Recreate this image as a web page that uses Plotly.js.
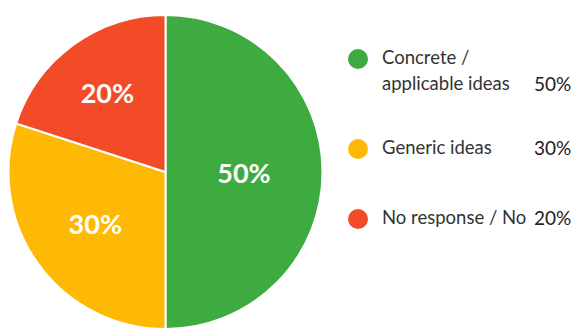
<!DOCTYPE html>
<html>
<head>
<meta charset="utf-8">
<script src="https://cdn.plot.ly/plotly-3.0.1.min.js"></script>
<style>
  html, body { margin: 0; padding: 0; background: #ffffff; }
  #chart { width: 574px; height: 331px; }
</style>
</head>
<body>
<div id="chart"></div>
<script>
// ---- data ----
const categories = ["Concrete /<br>applicable ideas", "Generic ideas", "No response / No"];
const shares = [50, 30, 20];
const colors = ["#3eab40", "#fdb904", "#f34a27"];

// ---- layout constants ----
const W = 574, H = 331;
const cx = 165.5, cy = 172, r = 157;
const px = v => v / W;
const py = v => 1 - v / H;
const FONT = "Lato, 'Open Sans', sans-serif";

const pie = {
  type: "pie",
  labels: categories.map(c => c.replace("<br>", " ")),
  values: shares,
  sort: false,
  direction: "clockwise",
  rotation: 0,
  marker: { colors: colors, line: { color: "#ffffff", width: 2 } },
  texttemplate: "%{value}%",
  textposition: "inside",
  insidetextorientation: "horizontal",
  textfont: { family: FONT, size: 27, color: "#ffffff", weight: 700 },
  hoverinfo: "skip",
  showlegend: false,
  domain: { x: [px(cx - r), px(cx + r)], y: [py(cy + r), py(cy - r)] }
};

// custom legend built from the data arrays
const legendRowY = [58, 148, 218];   // row circle centres (px)
const lineGap = 26;
const shapes = [];
const annotations = [];
categories.forEach((cat, i) => {
  const y0 = legendRowY[i];
  shapes.push({
    type: "circle", xref: "paper", yref: "paper",
    x0: px(348), x1: px(368), y0: py(y0 - 10 + 1), y1: py(y0 + 10 + 1),
    fillcolor: colors[i], line: { width: 0 }
  });
  const lines = cat.split("<br>");
  lines.forEach((ln, j) => {
    annotations.push({
      xref: "paper", yref: "paper", x: px(380), y: py(y0 - 1 + j * lineGap),
      xanchor: "left", yanchor: "middle", showarrow: false, text: ln,
      font: { family: FONT, size: 18.5, color: "#333333" }
    });
  });
  annotations.push({
    xref: "paper", yref: "paper", x: px(573), y: py(y0 - 1 + (lines.length - 1) * lineGap),
    xanchor: "right", yanchor: "middle", showarrow: false, text: shares[i] + "%",
    font: { family: FONT, size: 19, color: "#222222" }
  });
});

const layout = {
  width: W, height: H,
  margin: { l: 0, r: 0, t: 0, b: 0, pad: 0 },
  paper_bgcolor: "#ffffff",
  plot_bgcolor: "#ffffff",
  showlegend: false,
  shapes: shapes,
  annotations: annotations
};

Plotly.newPlot("chart", [pie], layout, { displayModeBar: false, staticPlot: true });
</script>
</body>
</html>
